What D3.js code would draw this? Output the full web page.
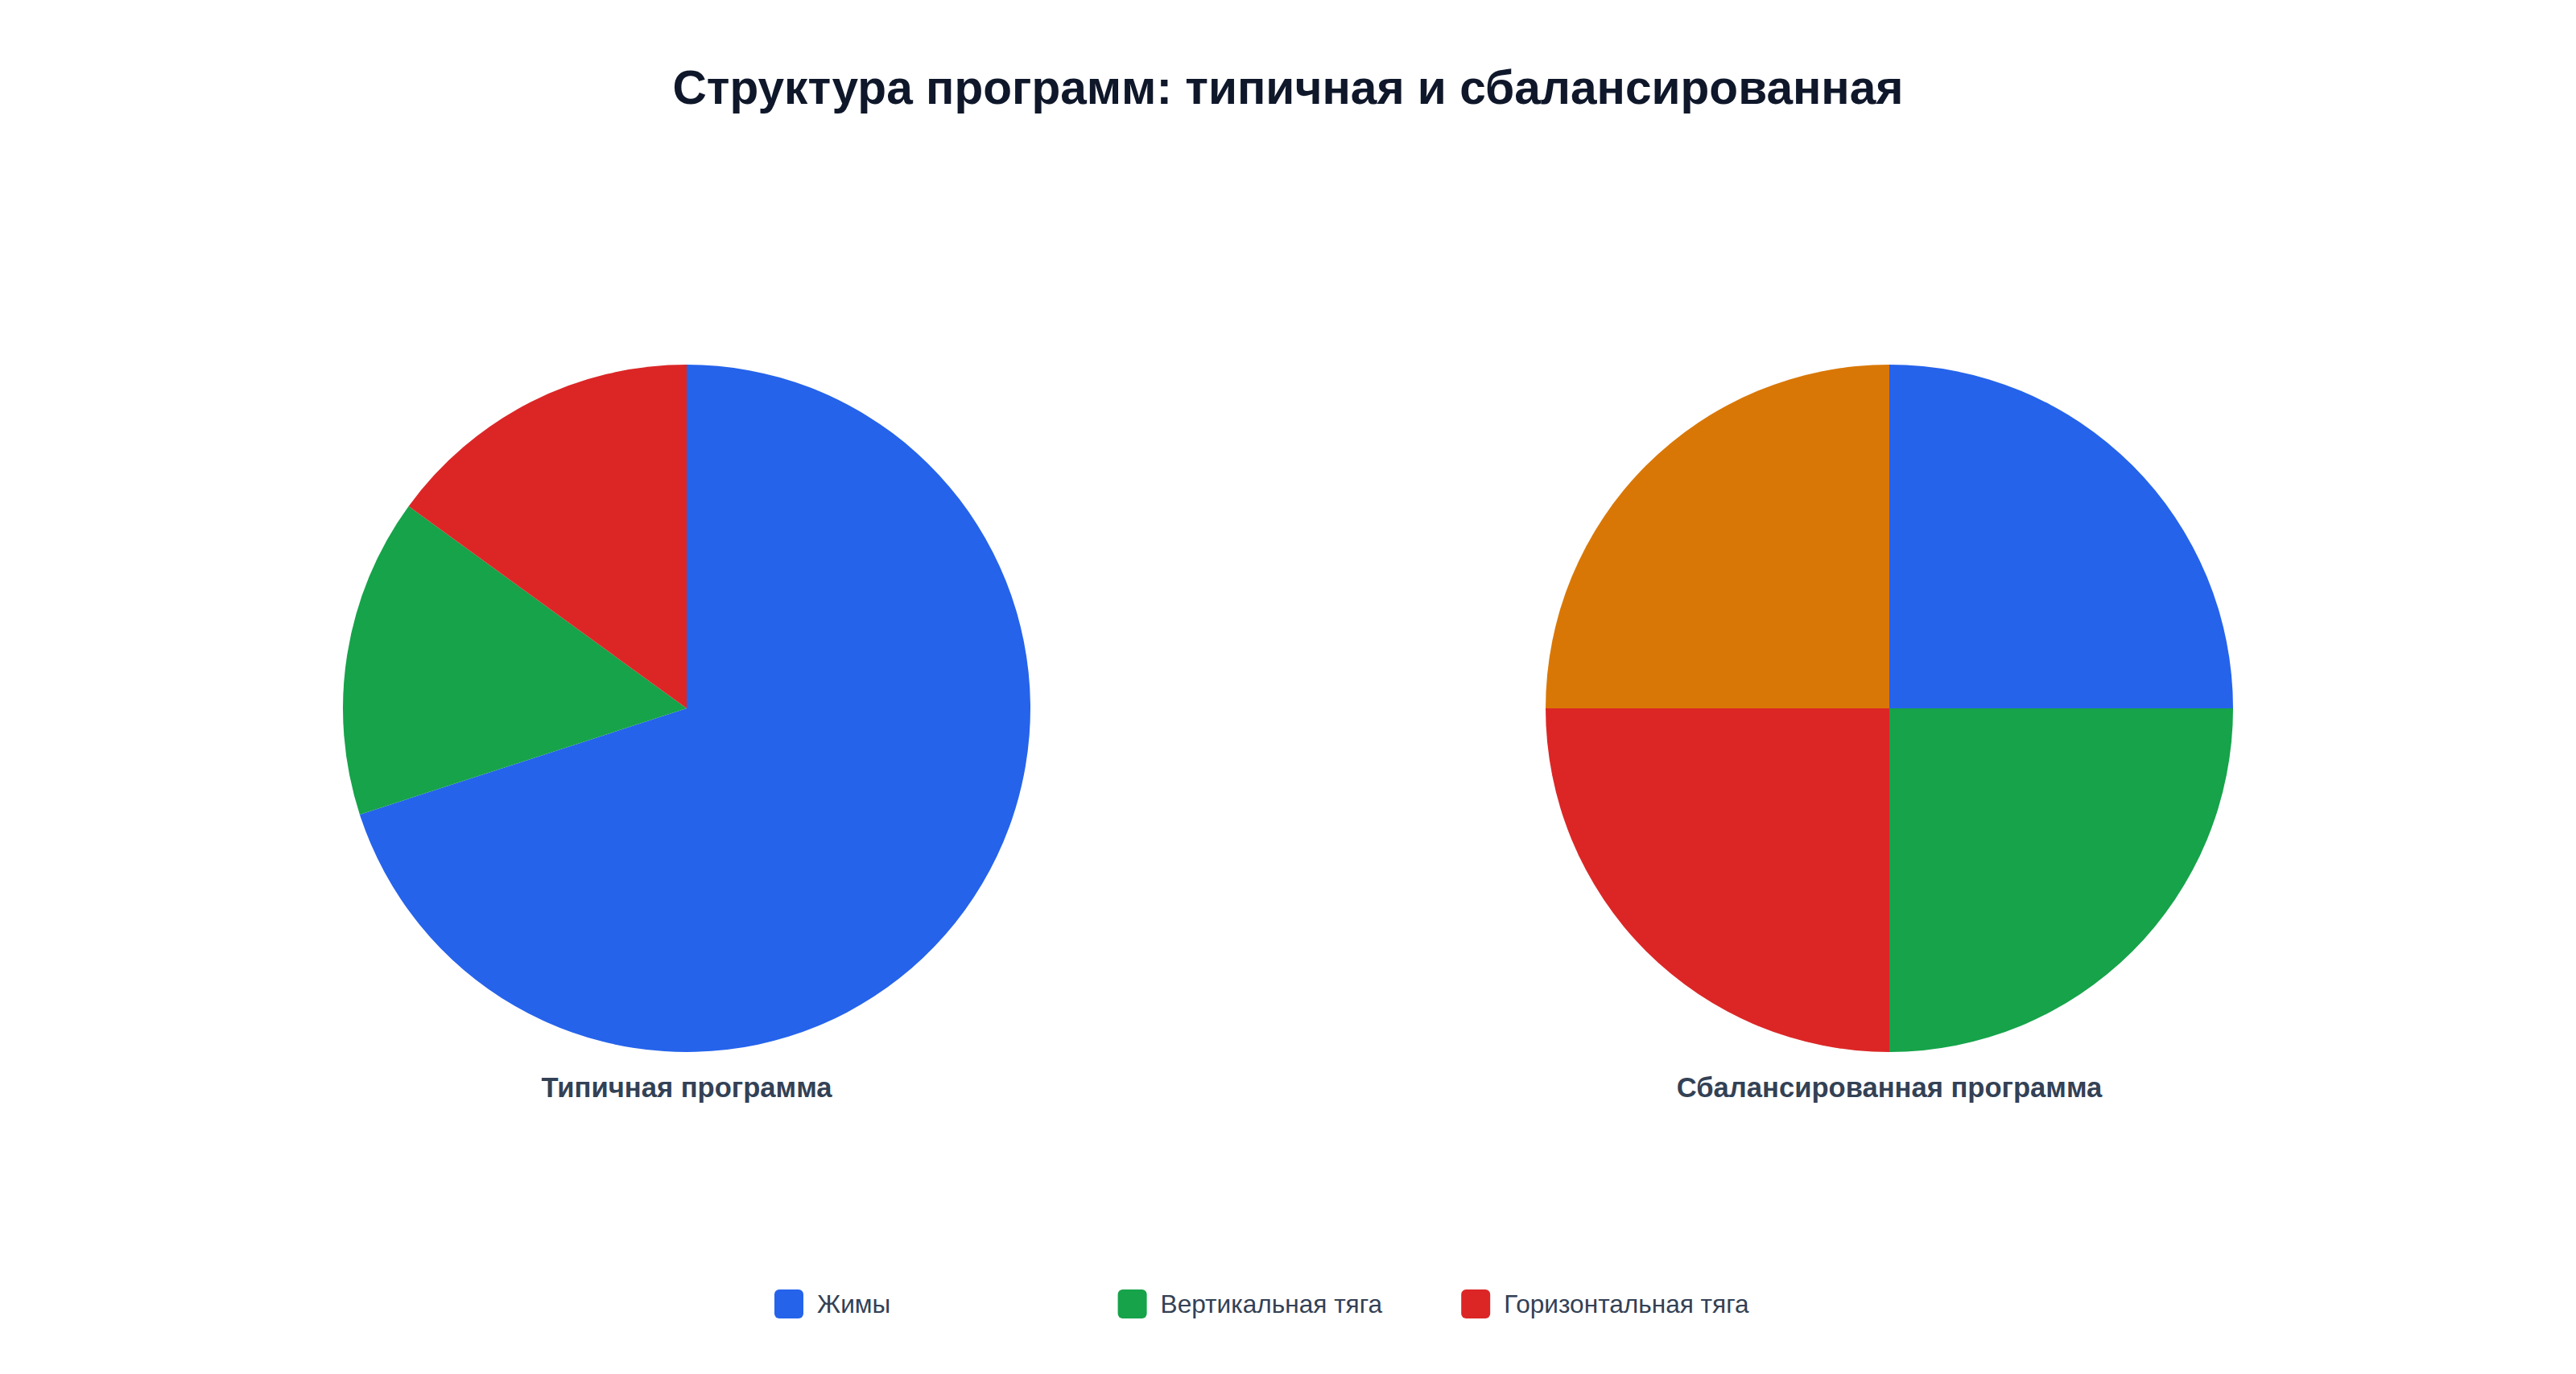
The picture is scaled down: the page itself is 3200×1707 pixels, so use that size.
<!DOCTYPE html>
<meta charset="utf-8">
<body>
<script src="https://cdn.jsdelivr.net/npm/d3@7"></script>
<style>
    html, body {
        margin: 0;
        background: #fff;
    }
    svg { display: block; }
</style>
<script>
var title = "Структура программ: типичная и сбалансированная";

var categories = ["Жимы", "Вертикальная тяга", "Горизонтальная тяга", "Ноги и корпус"];
var colors = ["#2563eb", "#16a34a", "#dc2626", "#d97706"];

var typicalValues = [70, 15, 15];
var balancedValues = [25, 25, 25, 25];

var pieTitles = ["Типичная программа", "Сбалансированная программа"];
var legendItems = ["Жимы", "Вертикальная тяга", "Горизонтальная тяга"];

var W = 1600, H = 853.5,
    cy = 440, r = 213.5,
    centers = [426.5, 1173.5];

var svg = d3.select("body").append("svg")
    .attr("width", 3200)
    .attr("height", 1707)
    .attr("viewBox", "0 0 " + W + " " + H)
    .style("font-family", "'Liberation Sans', Arial, sans-serif");

svg.append("text")
    .attr("x", 800)
    .attr("y", 64.5)
    .attr("text-anchor", "middle")
    .attr("font-size", 29.3)
    .attr("font-weight", "bold")
    .attr("fill", "#0f172a")
    .text(title);

var color = d3.scaleOrdinal().domain(categories).range(colors);

var pie = d3.pie()
    .sort(null)
    .value(function(d) { return d.value; });

var arc = d3.arc().innerRadius(0).outerRadius(r);

[typicalValues, balancedValues].forEach(function(vals, i) {
    var data = vals.map(function(v, j) { return {name: categories[j], value: v}; });
    var g = svg.append("g")
        .attr("transform", "translate(" + [centers[i], cy] + ")");

    g.selectAll("path")
        .data(pie(data))
        .enter().append("path")
        .attr("d", arc)
        .attr("fill", function(d) { return color(d.data.name); });

    g.append("text")
        .attr("y", r + 28)
        .attr("text-anchor", "middle")
        .attr("font-size", 17.3)
        .attr("font-weight", "bold")
        .attr("fill", "#334155")
        .text(pieTitles[i]);
});

var legend = svg.append("g")
    .attr("transform", "translate(481, 810)");

var item = legend.selectAll("g")
    .data(legendItems)
    .enter().append("g")
    .attr("transform", function(d, i) { return "translate(" + (i * 213.3) + ",0)"; });

item.append("rect")
    .attr("y", -9)
    .attr("width", 18)
    .attr("height", 18)
    .attr("rx", 3)
    .attr("fill", function(d) { return color(d); });

item.append("text")
    .attr("x", 26.5)
    .attr("y", 5.6)
    .attr("font-size", 15.8)
    .attr("fill", "#334155")
    .text(function(d) { return d; });
</script>
